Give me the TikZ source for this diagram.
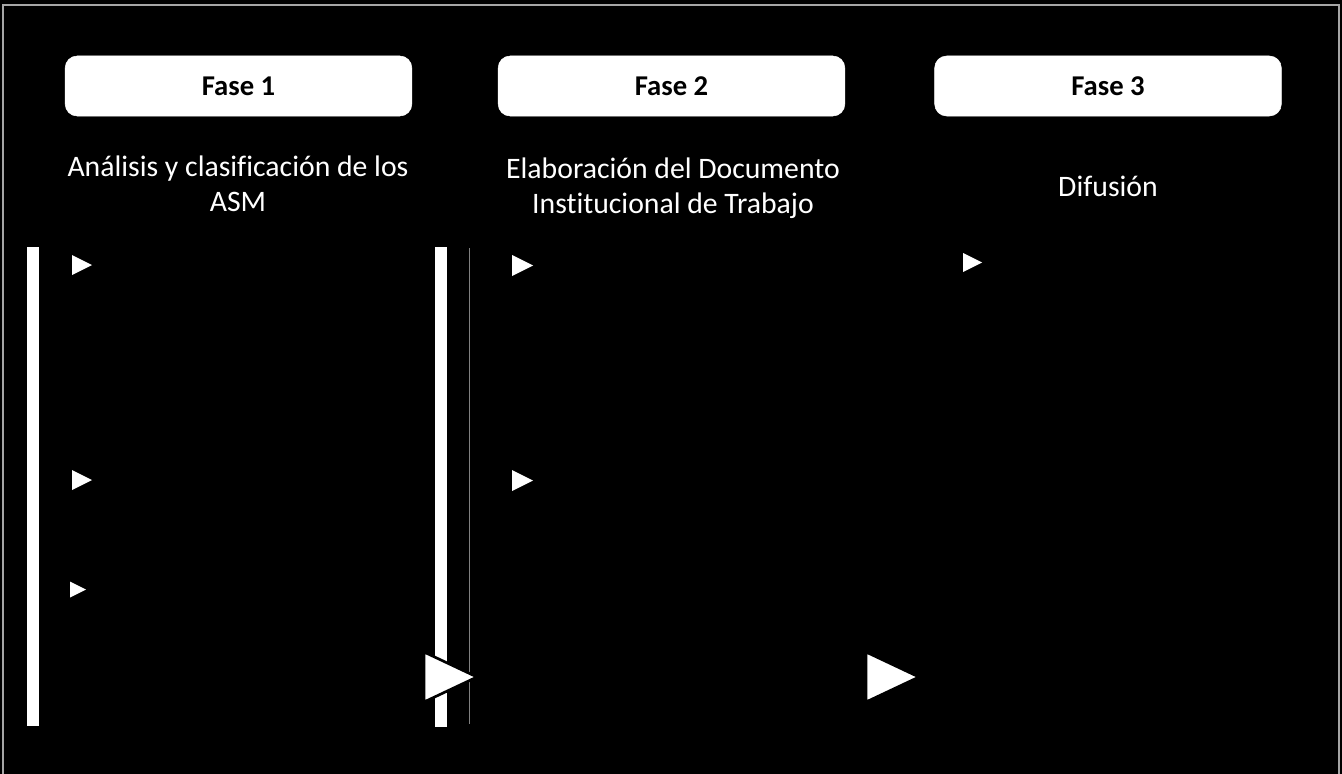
\documentclass[tikz,border=0pt]{standalone}
\usepackage{fontspec}
\setmainfont[Ligatures=NoCommon]{Carlito}
\usepackage{tikz}
\usetikzlibrary{calc}

\tikzset{
  fase/.style={fill=white, draw=white, rounded corners=9pt, minimum width=260pt,
    minimum height=45pt, inner sep=0pt, font=\bfseries\fontsize{21.5}{25}\selectfont},
  titulo/.style={text=white, align=center, inner sep=0pt, font=\fontsize{22.3}{26}\selectfont}
}

\begin{document}
\begin{tikzpicture}[x=0.75pt, y=-0.75pt]
  \fill [black] (0,0) rectangle (1342,774);
  \useasboundingbox (0,0) rectangle (1342,774);
  \draw [gray!70, line width=1pt] (3,774) -- (3,5) -- (1339,5) -- (1339,774);

  \node (fase1) [fase] at (238.5,86) {Fase 1};
  \node (fase2) [fase] at (671.5,86) {Fase 2};
  \node (fase3) [fase] at (1108,86) {Fase 3};

  \node (analisis) [titulo] at (238,184) {Análisis y clasificación de los\\ASM};
  \node (elaboracion) [titulo] at (673,188) {Elaboración del Documento\\Institucional de Trabajo};
  \node (difusion) [titulo] at (1108,186) {Difusión};

  \fill [white] (27,247) rectangle (39,726);
  \fill [white] (435,247) rectangle (447,727);
  \draw [gray, line width=0.6pt] (469,248) -- (469,724);

  \foreach \x/\y/\s in {72/265/10, 72/480/10, 70/589.5/8, 512/265.5/10.5, 512/480.5/10.5, 963/262.5/9.5}
    \fill [white] (\x,\y-\s) -- (\x+2*\s,\y) -- (\x,\y+\s) -- cycle;

  \filldraw [fill=white, draw=black, line width=2pt] (424,652) -- (477,677) -- (424,702) -- cycle;
  \filldraw [fill=white, draw=black, line width=2pt] (866,652) -- (919,677) -- (866,702) -- cycle;
\end{tikzpicture}
\end{document}
